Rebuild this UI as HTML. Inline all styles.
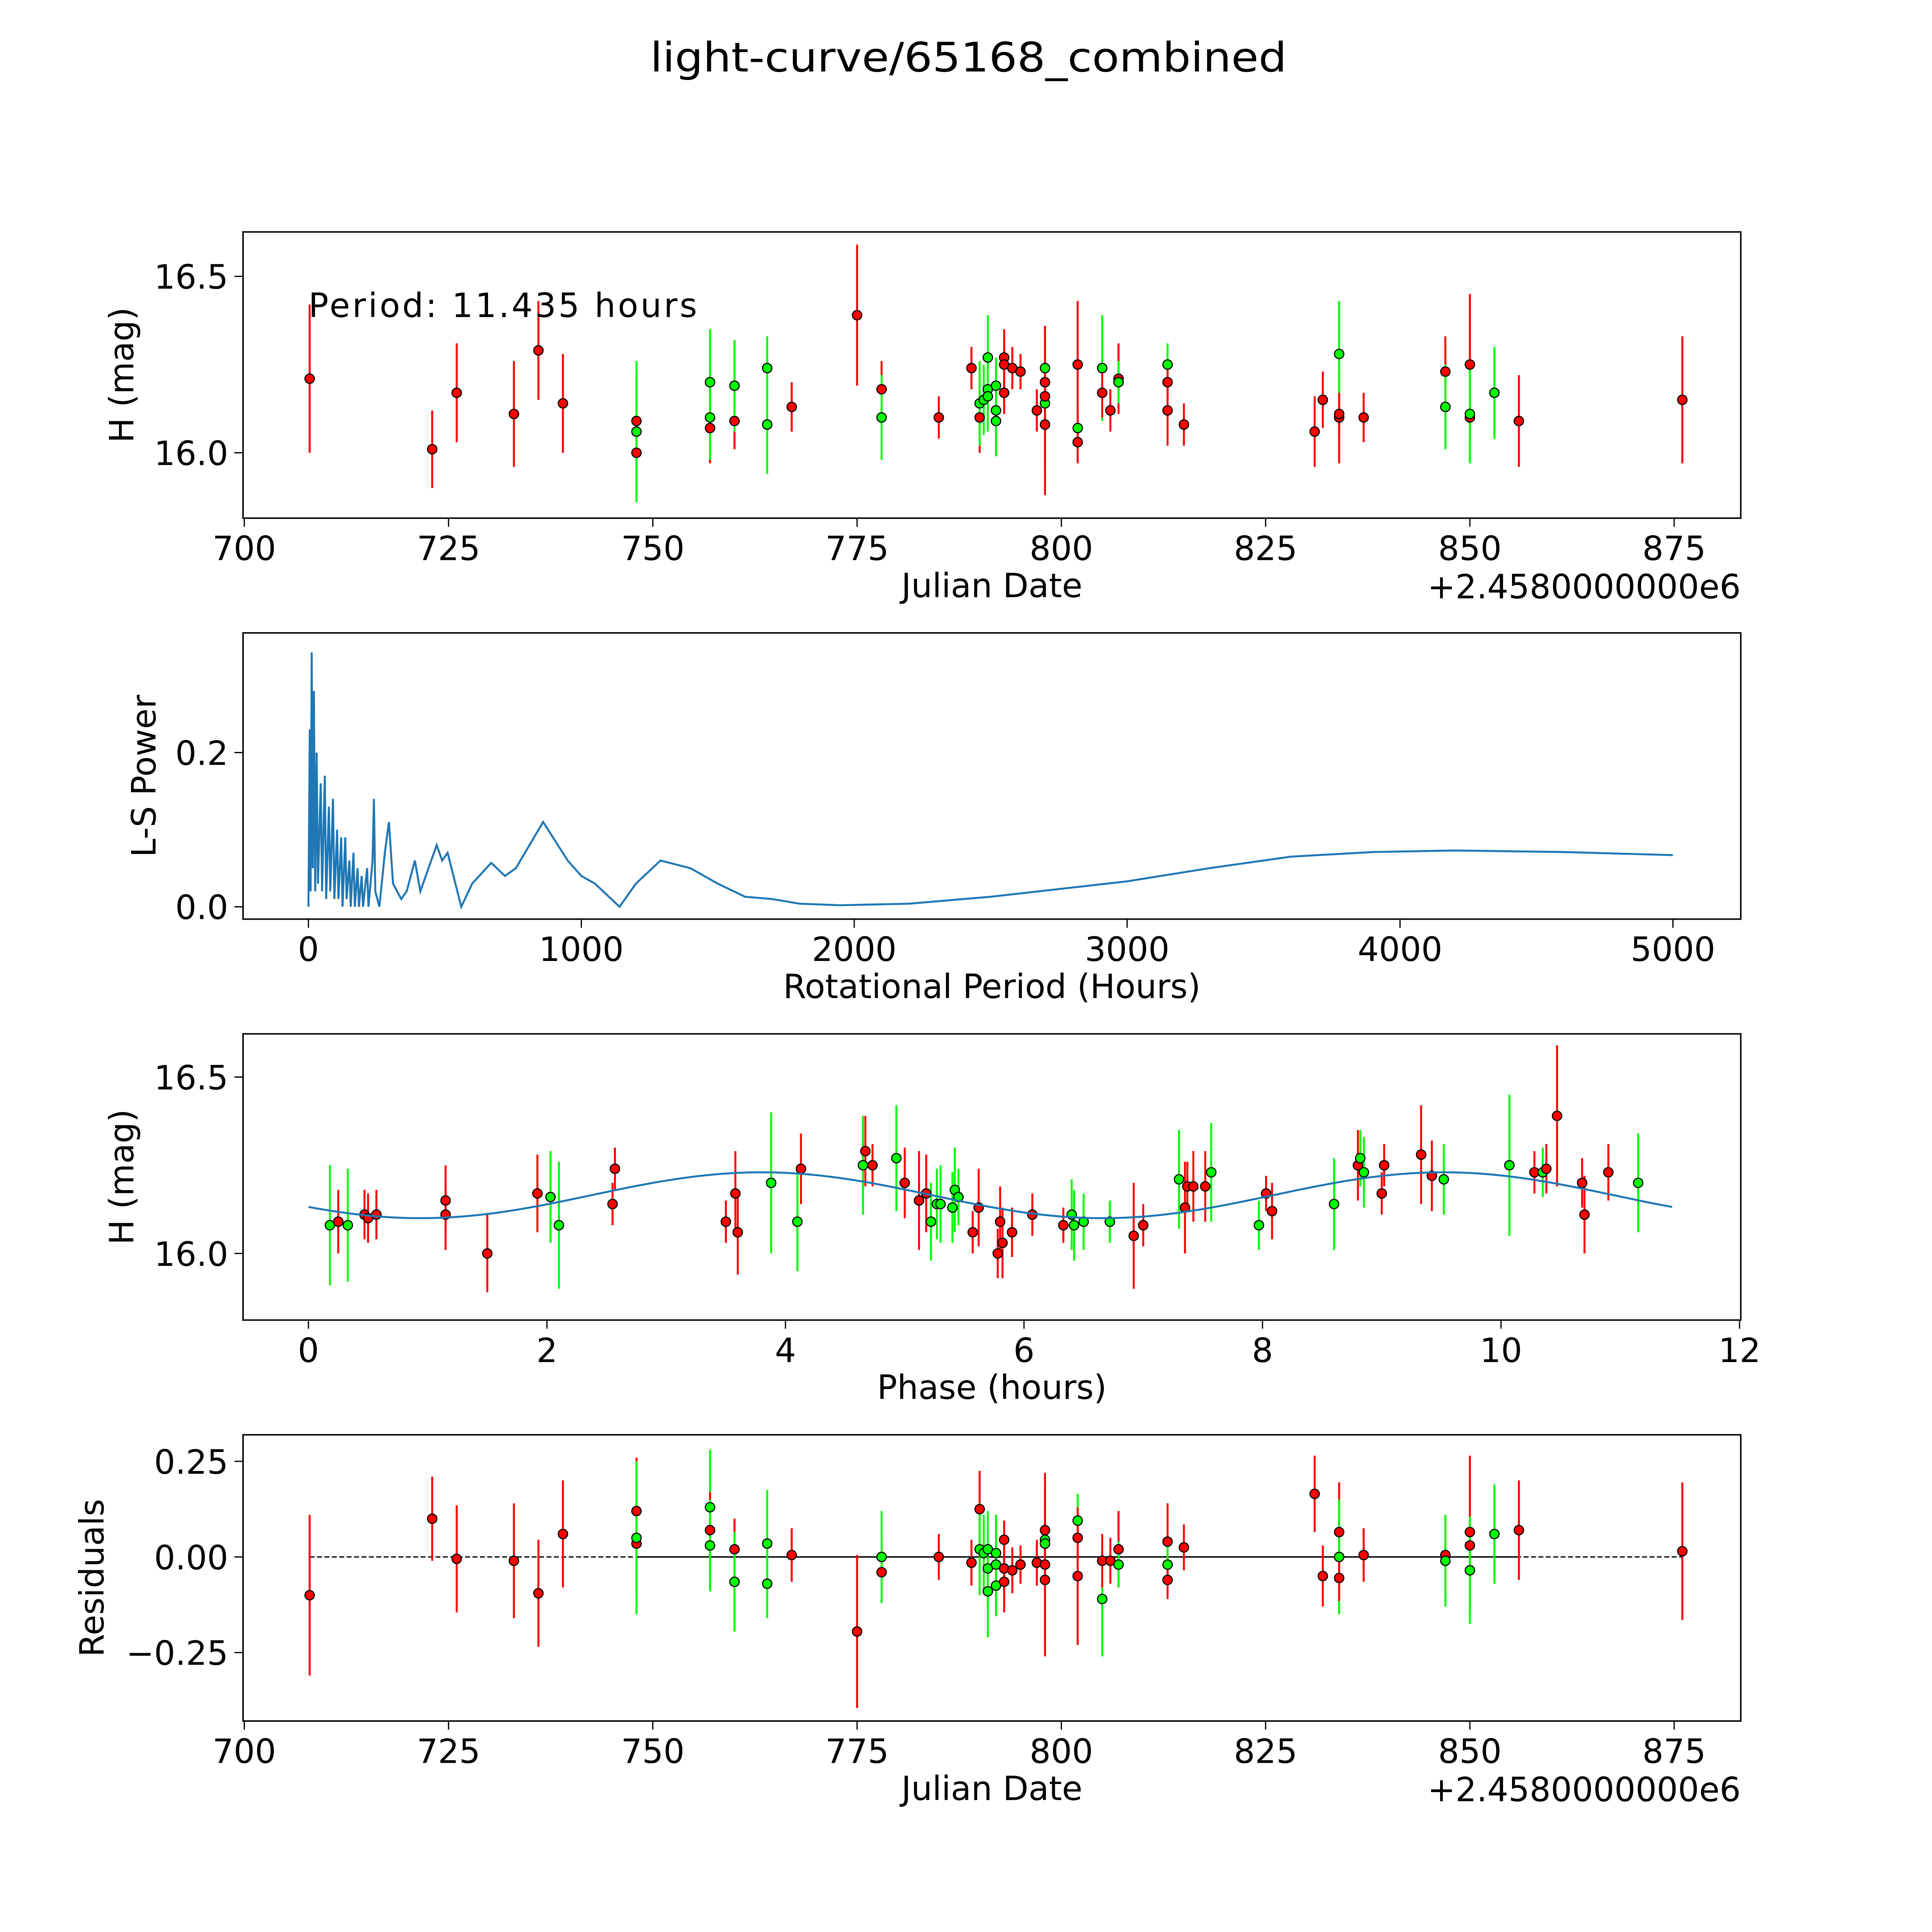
<!DOCTYPE html>
<html><head><meta charset="utf-8"><style>html,body{margin:0;padding:0;background:#fff;overflow:hidden;width:100%;height:100%}svg{display:block;position:fixed;left:0;top:0;width:100vw;height:100vh}text{font-family:"DejaVu Sans","Liberation Sans",sans-serif;fill:#000}</style></head>
<body>
<svg id="fig" viewBox="0 0 1566 1566" preserveAspectRatio="none" xmlns="http://www.w3.org/2000/svg">
<rect width="1566" height="1566" fill="#fff"/>
<text x="785" y="58" font-size="33" text-anchor="middle" textLength="516" lengthAdjust="spacingAndGlyphs">light-curve/65168_combined</text>
<g id="root"></g>
</svg>
<script>
// ---- Panel 1 & 4 data: Julian date offset, magnitude, residual, error, band
const lcDates = [708,723,726,733,736,739,748,748,748,757,757,757,760,760,764,764,767,775,778,778,785,789,790,790,790.5,791,791,791,792,792,792,793,793,793,794,795,797,798,798,798,798,798,802,802,802,805,805,806,807,807,813,813,813,815,831,832,834,834,834,837,847,847,850,850,850,853,856,876];
const lcMags = [16.21,16.01,16.17,16.11,16.29,16.14,16.0,16.09,16.06,16.2,16.07,16.1,16.09,16.19,16.08,16.24,16.13,16.39,16.18,16.1,16.1,16.24,16.1,16.14,16.15,16.27,16.18,16.16,16.12,16.09,16.19,16.27,16.25,16.17,16.24,16.23,16.12,16.2,16.24,16.14,16.16,16.08,16.07,16.03,16.25,16.24,16.17,16.12,16.21,16.2,16.12,16.25,16.2,16.08,16.06,16.15,16.1,16.28,16.11,16.1,16.23,16.13,16.25,16.1,16.11,16.17,16.09,16.15];
const lcResid = [-0.10,0.10,-0.005,-0.01,-0.095,0.06,0.12,0.035,0.05,0.13,0.07,0.03,0.02,-0.065,0.035,-0.07,0.005,-0.195,-0.04,0.0,0.0,-0.015,0.125,0.02,0.01,-0.09,-0.03,0.02,0.01,-0.02,-0.075,-0.065,0.045,-0.03,-0.035,-0.02,-0.015,0.07,0.045,0.035,-0.02,-0.06,0.095,0.05,-0.05,-0.11,-0.01,-0.01,0.02,-0.02,0.04,-0.02,-0.06,0.025,0.165,-0.05,0.065,0.0,-0.055,0.005,0.005,-0.01,0.065,0.03,-0.035,0.06,0.07,0.015];
const lcErrs = [0.21,0.11,0.14,0.15,0.14,0.14,0.14,0.13,0.2,0.15,0.1,0.12,0.08,0.13,0.14,0.09,0.07,0.2,0.08,0.12,0.06,0.06,0.1,0.12,0.1,0.12,0.1,0.1,0.1,0.1,0.08,0.08,0.05,0.06,0.06,0.05,0.06,0.15,0.1,0.06,0.2,0.2,0.07,0.06,0.18,0.15,0.07,0.06,0.1,0.06,0.1,0.06,0.05,0.06,0.1,0.08,0.13,0.15,0.06,0.07,0.1,0.12,0.2,0.07,0.14,0.13,0.13,0.18];
const lcBand = "rrrrrrrrggrgrgggrrrgrrrggggggggrrrrrrrggrrgrrgrrrgrgrrrrrgrrrgrrggrrrr";

// ---- Panel 2: periodogram
const lsPeriods = [0,5,8,12,16,20,25,30,35,45,50,60,65,75,80,90,95,105,110,120,125,135,140,150,155,165,170,180,185,195,200,215,220,235,240,245,260,280,295,310,340,360,390,410,430,470,490,510,560,600,670,720,760,860,950,1000,1050,1140,1200,1290,1400,1500,1600,1700,1800,1950,2200,2500,2800,3000,3300,3600,3900,4200,4600,5000];
const lsPower = [0,0.23,0.02,0.33,0.05,0.28,0.02,0.2,0.03,0.16,0.02,0.17,0.01,0.13,0.02,0.14,0.01,0.1,0.01,0.09,0.0,0.09,0.01,0.06,0.0,0.07,0.0,0.05,0,0.04,0,0.05,0,0.06,0.14,0.02,0.0,0.07,0.11,0.03,0.01,0.02,0.06,0.02,0.04,0.08,0.06,0.07,0.0,0.03,0.057,0.04,0.05,0.11,0.06,0.04,0.03,0.0,0.03,0.06,0.05,0.03,0.013,0.01,0.004,0.002,0.004,0.013,0.025,0.033,0.05,0.065,0.071,0.073,0.071,0.067];

// ---- Panel 3: phased light curve
const phPhase = [0.18,0.25,0.33,0.47,0.5,0.57,1.15,1.15,1.5,1.92,2.03,2.1,2.55,2.57,3.5,3.58,3.6,3.88,4.1,4.13,4.65,4.67,4.73,4.93,5.0,5.12,5.18,5.22,5.27,5.3,5.4,5.42,5.45,5.57,5.62,5.78,5.8,5.82,5.9,6.07,6.33,6.4,6.42,6.5,6.72,6.92,7.0,7.3,7.35,7.37,7.42,7.52,7.57,7.97,8.03,8.08,8.6,8.8,8.82,8.85,9.0,9.02,9.33,9.42,9.52,10.07,10.28,10.35,10.38,10.47,10.68,10.7,10.9,11.15];
const phMags = [16.08,16.09,16.08,16.11,16.1,16.11,16.15,16.11,16.0,16.17,16.16,16.08,16.14,16.24,16.09,16.17,16.06,16.2,16.09,16.24,16.25,16.29,16.25,16.27,16.2,16.15,16.17,16.09,16.14,16.14,16.13,16.18,16.16,16.06,16.13,16.0,16.09,16.03,16.06,16.11,16.08,16.11,16.08,16.09,16.09,16.05,16.08,16.21,16.13,16.19,16.19,16.19,16.23,16.08,16.17,16.12,16.14,16.25,16.27,16.23,16.17,16.25,16.28,16.22,16.21,16.25,16.23,16.23,16.24,16.39,16.2,16.11,16.23,16.2];
const phErrs = [0.17,0.09,0.16,0.07,0.07,0.07,0.1,0.1,0.11,0.11,0.13,0.18,0.06,0.06,0.06,0.12,0.12,0.2,0.14,0.1,0.14,0.1,0.06,0.15,0.1,0.14,0.11,0.11,0.1,0.11,0.1,0.12,0.08,0.06,0.11,0.07,0.1,0.1,0.07,0.06,0.05,0.1,0.1,0.08,0.06,0.15,0.06,0.14,0.13,0.07,0.1,0.1,0.14,0.07,0.05,0.08,0.13,0.1,0.08,0.1,0.06,0.06,0.14,0.1,0.1,0.2,0.06,0.07,0.07,0.2,0.07,0.11,0.08,0.14];
const phBand = "grgrrrrrrrggrrrrrggrgrrgrrrggggggrrrrrrrrggggrrgrrrrggrrgrggrrrrggrgrrrrrgrg";
const fitMean = [16.165], fitAmp = [0.065], fitPeak = [3.8], fitPeriod = [11.435];

const NS='http://www.w3.org/2000/svg';
const root=document.getElementById('root');
function mk(tag,attrs,parent){const e=document.createElementNS(NS,tag);for(const k in attrs)e.setAttribute(k,attrs[k]);(parent||root).appendChild(e);return e;}
function txt(s,x,y,size,anchor,parent,rot){const t=mk('text',{x:x,y:y,'font-size':size,'text-anchor':anchor||'middle'},parent);if(rot)t.setAttribute('transform','rotate(-90 '+x+' '+y+')');t.textContent=s;return t;}

function axes(name,box,xs,xticks,xlabels,ys,yticks,ylabels,xtitle,ytitle,yTitleX){
  const g=mk('g',{});
  
  
  const fr=mk('rect',{x:box.x0,y:box.y0,width:box.x1-box.x0,height:box.y1-box.y0,fill:'none',stroke:'#000','stroke-width':1.2},g);
  
  
  xticks.forEach((v,i)=>{const x=xs(v);mk('line',{x1:x,x2:x,y1:box.y1,y2:box.y1+7,stroke:'#000','stroke-width':1},g);
    const t=txt(xlabels[i],x,box.y1+34,27,'middle',g);
    
    });
  yticks.forEach((v,i)=>{const y=ys(v);mk('line',{x1:box.x0-7,x2:box.x0,y1:y,y2:y,stroke:'#000','stroke-width':1},g);
    const t=txt(ylabels[i],box.x0-12,y+10,27,'end',g);
    
    });
  const xt=txt(xtitle,(box.x0+box.x1)/2,box.y1+64,27,'middle',g);
  
  
  const yt=txt(ytitle,yTitleX,(box.y0+box.y1)/2,27,'middle',g,true);
  
  
  return g;
}
function points(g,xs,ys,X,Y,E,B){
  X.forEach((v,i)=>{const c=B[i]==='g'?'#00ff00':'#ff0000';const x=xs(v);
    const l=mk('line',{x1:x,x2:x,y1:ys(Y[i]-E[i]),y2:ys(Y[i]+E[i]),stroke:c,'stroke-width':1.6},g);
    
    });
  X.forEach((v,i)=>{const c=B[i]==='g'?'#00ff00':'#ff0000';
    const p=mk('circle',{cx:xs(v),cy:ys(Y[i]),r:3.8,fill:c,stroke:'#000','stroke-width':0.9},g);
    
    });
}
const dateX=v=>198+(v-700)*(1357-198)/175;
const dTicks=[700,725,750,775,800,825,850,875];
// Panel 1
const y1=v=>367-(v-16.0)*286;
const g1=axes('light-curve-panel',{x0:197,x1:1411,y0:188,y1:420},dateX,dTicks,dTicks.map(String),y1,[16.0,16.5],['16.0','16.5'],'Julian Date','H (mag)',108);
points(g1,dateX,y1,lcDates,lcMags,lcErrs,lcBand);
const pt=txt('Period: 11.435 hours',250,257,27,'start',g1);
pt.setAttribute('textLength', '315');


const o1=txt('+2.4580000000e6',1411,485,27,'end',g1);


// Panel 2
const x2=v=>250+v*(1356-250)/5000, y2=v=>735-v*625;
const g2=axes('periodogram-panel',{x0:197,x1:1411,y0:513,y1:745},x2,[0,1000,2000,3000,4000,5000],['0','1000','2000','3000','4000','5000'],y2,[0,0.2],['0.0','0.2'],'Rotational Period (Hours)','L-S Power',126);
const pl=mk('polyline',{points:lsPeriods.map((p,i)=>x2(p)+','+y2(lsPower[i])).join(' '),fill:'none',stroke:'#1f77b4','stroke-width':1.6},g2);


// Panel 3
const x3=v=>250+v*(1410-250)/12, y3=v=>1016-(v-16.0)*286;
const g3=axes('phase-panel',{x0:197,x1:1411,y0:838,y1:1070},x3,[0,2,4,6,8,10,12],['0','2','4','6','8','10','12'],y3,[16.0,16.5],['16.0','16.5'],'Phase (hours)','H (mag)',108);
const fp=[];for(let i=0;i<=200;i++){const x=fitPeriod[0]*i/200;fp.push(x3(x)+','+y3(fitMean[0]+fitAmp[0]*Math.cos(4*Math.PI*(x-fitPeak[0])/fitPeriod[0])));}
points(g3,x3,y3,phPhase,phMags,phErrs,phBand);
const fl=mk('polyline',{points:fp.join(' '),fill:'none',stroke:'#1f77b4','stroke-width':1.6},g3);


// Panel 4
const y4=v=>1262-v*310;
const g4=axes('residuals-panel',{x0:197,x1:1411,y0:1163,y1:1395},dateX,dTicks,dTicks.map(String),y4,[-0.25,0,0.25],['\u22120.25','0.00','0.25'],'Julian Date','Residuals',84);
const zl=mk('line',{x1:dateX(708),x2:dateX(876),y1:y4(0),y2:y4(0),stroke:'#000','stroke-width':1,'stroke-dasharray':'4,2'},g4);


mk('line',{x1:dateX(748),x2:dateX(856),y1:y4(0),y2:y4(0),stroke:'#000','stroke-width':1.2},g4);
points(g4,dateX,y4,lcDates,lcResid,lcErrs,lcBand);
const o4=txt('+2.4580000000e6',1411,1460,27,'end',g4);


</script>
</body></html>
